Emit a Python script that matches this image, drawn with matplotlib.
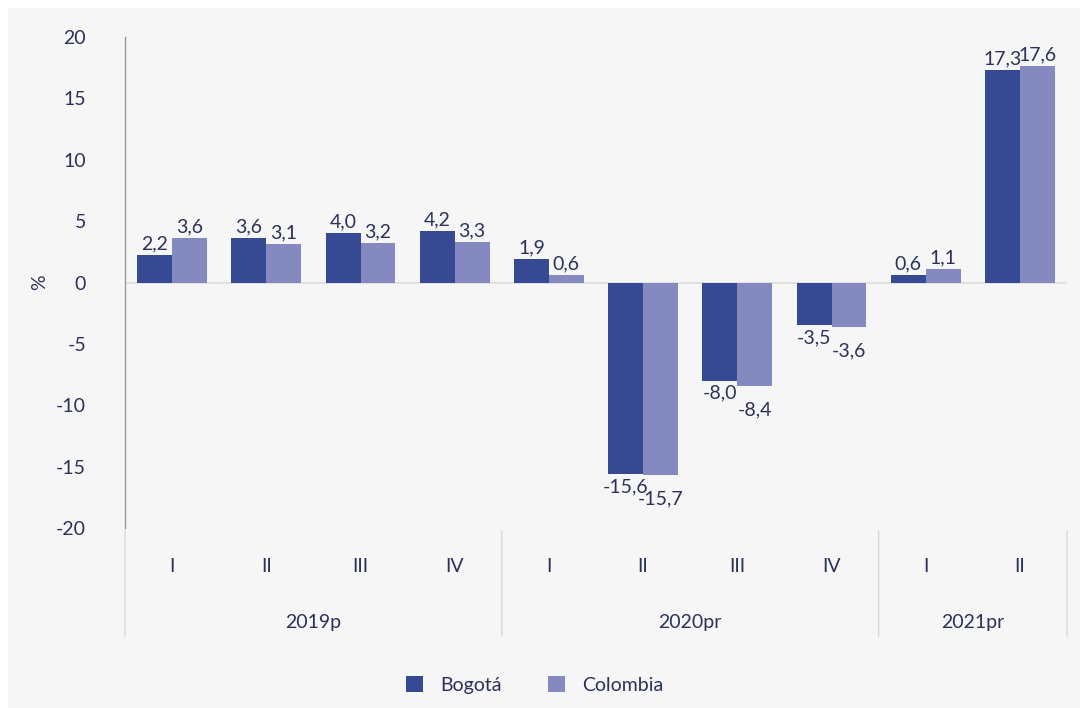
import numpy as np
import matplotlib.pyplot as plt
from matplotlib.patches import Rectangle

plt.rcParams['font.family'] = ['Lato', 'DejaVu Sans']
plt.rcParams['axes.unicode_minus'] = False

quarters = ['I', 'II', 'III', 'IV', 'I', 'II', 'III', 'IV', 'I', 'II']
years = ['2019p', '2020pr', '2021pr']
year_sizes = [4, 4, 2]
bogota = [2.2, 3.6, 4.0, 4.2, 1.9, -15.6, -8.0, -3.5, 0.6, 17.3]
colombia = [3.6, 3.1, 3.2, 3.3, 0.6, -15.7, -8.4, -3.6, 1.1, 17.6]

c_bog = '#364a94'
c_col = '#8489bf'
txt = '#2b3158'
fs = 14

W, H = 1088, 708
fig = plt.figure(figsize=(W / 100, H / 100), dpi=100, facecolor='white')
fig.patches.append(Rectangle((8 / W, 0), 1072 / W, 700 / H, transform=fig.transFigure,
                             facecolor='#f6f6f6', edgecolor='none', zorder=-10))

ax_w = 942
ax = fig.add_axes([125 / W, 1 - 528 / H, ax_w / W, 491 / H])
ax.set_facecolor('none')

x = np.arange(len(quarters))
w = 0.37
b1 = ax.bar(x - w / 2, bogota, w, color=c_bog, label='Bogotá', zorder=3)
b2 = ax.bar(x + w / 2, colombia, w, color=c_col, label='Colombia', zorder=3)

def fmt(v):
    return ('%.1f' % v).replace('.', ',')

for bars, vals, extra in [(b1, bogota, 0), (b2, colombia, 8)]:
    for r, v in zip(bars, vals):
        cx = r.get_x() + r.get_width() / 2
        if v >= 0:
            ax.annotate(fmt(v), (cx, v), xytext=(0, 2), textcoords='offset points',
                        ha='center', va='bottom', fontsize=fs, color=txt)
        else:
            ax.annotate(fmt(v), (cx, v), xytext=(0, -3 - extra), textcoords='offset points',
                        ha='center', va='top', fontsize=fs, color=txt)

ax.set_xlim(-0.5, len(quarters) - 0.5)
ax.set_ylim(-20, 20)
ax.set_yticks(np.arange(-20, 21, 5))
ax.tick_params(axis='y', length=0, pad=28, labelsize=fs, labelcolor=txt)
ax.set_xticks([])
for s in ['top', 'right', 'bottom']:
    ax.spines[s].set_visible(False)
ax.spines['left'].set_color('#999999')
ax.spines['left'].set_linewidth(1)
ax.axhline(0, color='#dddddd', linewidth=1.2, zorder=2)
ax.set_ylabel('%', fontsize=fs, color=txt)
ax.yaxis.set_label_coords(-(125 - 48) / ax_w, 0.5)

# category axis below the plot
for i, q in enumerate(quarters):
    ax.annotate(q, (i, 0), xycoords=('data', 'axes fraction'), xytext=(0, -28),
                textcoords='offset points', ha='center', va='center', fontsize=fs, color=txt)

edges = np.concatenate([[0], np.cumsum(year_sizes)]) - 0.5
for e in edges:
    ax.annotate('', (e, 0), xycoords=('data', 'axes fraction'), xytext=(e, -80),
                textcoords=('data', 'offset points'),
                arrowprops=dict(arrowstyle='-', color='#d8d8d8', lw=1))
for yr, a, b in zip(years, edges[:-1], edges[1:]):
    ax.annotate(yr, ((a + b) / 2, 0), xycoords=('data', 'axes fraction'), xytext=(0, -68),
                textcoords='offset points', ha='center', va='center', fontsize=fs, color=txt)

leg = fig.legend(handles=[b1, b2], loc='center', bbox_to_anchor=(535 / W, 1 - 685 / H),
                 ncol=2, frameon=False, fontsize=fs, handlelength=0.85, handleheight=0.85,
                 columnspacing=2.4, handletextpad=0.9)
for t in leg.get_texts():
    t.set_color(txt)

fig.savefig('out.png', dpi=100)
